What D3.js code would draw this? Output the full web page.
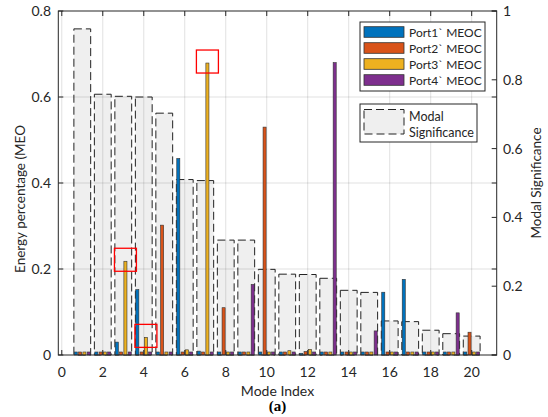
<!DOCTYPE html>
<html>
<head>
<meta charset="utf-8">
<script src="https://cdn.jsdelivr.net/npm/d3@7"></script>
<style>
  body { margin: 0; background: #fff; }
  svg { font-family: Lato, "Open Sans", sans-serif; }
</style>
</head>
<body>
<div id="chart"></div>
<script>
// mode index 1..20
const modes = d3.range(1, 21);

// energy percentage per port (left axis)
const port1 = [0.007, 0.007, 0.030, 0.152, 0.007, 0.457, 0.009, 0.007, 0.007, 0.007,
               0.007, 0.004, 0.007, 0.007, 0.007, 0.146, 0.176, 0.007, 0.007, 0.007];
const port2 = [0.007, 0.007, 0.007, 0.007, 0.302, 0.007, 0.007, 0.110, 0.007, 0.530,
               0.007, 0.008, 0.007, 0.007, 0.007, 0.007, 0.007, 0.007, 0.007, 0.053];
const port3 = [0.007, 0.007, 0.218, 0.041, 0.007, 0.012, 0.679, 0.007, 0.007, 0.007,
               0.010, 0.013, 0.007, 0.007, 0.007, 0.007, 0.007, 0.007, 0.007, 0.007];
const port4 = [0.007, 0.007, 0.007, 0.007, 0.007, 0.007, 0.007, 0.007, 0.164, 0.007,
               0.007, 0.007, 0.680, 0.007, 0.056, 0.007, 0.007, 0.007, 0.098, 0.007];

// modal significance (right axis)
const modal = [0.948, 0.758, 0.752, 0.750, 0.703, 0.510, 0.507, 0.334, 0.334, 0.249,
               0.235, 0.234, 0.223, 0.188, 0.182, 0.099, 0.097, 0.072, 0.062, 0.055];

const seriesNames = ["Port1` MEOC", "Port2` MEOC", "Port3` MEOC", "Port4` MEOC"];
const seriesColors = ["#0072BD", "#D95319", "#EDB120", "#7E2F8E"];
const series = [port1, port2, port3, port4];

const xTicks = d3.range(0, 21, 2);
const yLeftTicks = [0, 0.2, 0.4, 0.6, 0.8];
const yRightTicks = [0, 0.2, 0.4, 0.6, 0.8, 1];

// red marked bars: [mode, port index]
const marked = [[7, 2], [3, 2], [4, 2]];

const W = 548, H = 417;
const plot = {left: 58.3, right: 496.7, top: 11, bottom: 355};

const svg = d3.select("#chart").append("svg")
  .attr("width", W).attr("height", H);

const x = d3.scaleLinear().domain([-0.17, 21.22]).range([plot.left, plot.right]);
const yL = d3.scaleLinear().domain([0, 0.8]).range([plot.bottom, plot.top]);
const yR = d3.scaleLinear().domain([0, 1]).range([plot.bottom, plot.top]);

const boxW = 0.82, barW = 0.15, step = 0.21;

// modal significance boxes
svg.append("g").selectAll("rect").data(modes).join("rect")
  .attr("x", d => x(d - boxW / 2))
  .attr("width", x(boxW) - x(0))
  .attr("y", (d, i) => yR(modal[i]))
  .attr("height", (d, i) => yR(0) - yR(modal[i]))
  .attr("fill", "#efefef")
  .attr("stroke", "#222")
  .attr("stroke-width", 1)
  .attr("stroke-dasharray", "8,4");

// grid
const grid = svg.append("g").attr("stroke", "#000").attr("stroke-opacity", 0.12);
grid.selectAll(".gx").data(xTicks).join("line")
  .attr("x1", d => x(d)).attr("x2", d => x(d))
  .attr("y1", plot.top).attr("y2", plot.bottom);
grid.selectAll(".gy").data(yLeftTicks.slice(1, -1)).join("line")
  .attr("x1", plot.left).attr("x2", plot.right)
  .attr("y1", d => yL(d)).attr("y2", d => yL(d));

// grouped port bars
series.forEach((vals, s) => {
  const off = (s - 1.5) * step;
  svg.append("g").selectAll("rect").data(modes).join("rect")
    .attr("x", d => x(d + off - barW / 2))
    .attr("width", x(barW) - x(0))
    .attr("y", (d, i) => yL(vals[i]))
    .attr("height", (d, i) => yL(0) - yL(vals[i]))
    .attr("fill", seriesColors[s])
    .attr("stroke", "#333")
    .attr("stroke-width", 0.6);
});

// red highlight boxes
svg.append("g").selectAll("rect").data(marked).join("rect")
  .attr("x", d => x(d[0] + (d[1] - 1.5) * step) - 11)
  .attr("y", d => yL(series[d[1]][d[0] - 1]) - 13)
  .attr("width", 22).attr("height", 23)
  .attr("fill", "none").attr("stroke", "#ff0000").attr("stroke-width", 1.3);

// axes
const axisColor = "#262626";
const tickLen = 5;
const axes = svg.append("g").attr("stroke", axisColor).attr("stroke-width", 1);
axes.append("rect")
  .attr("x", plot.left).attr("y", plot.top)
  .attr("width", plot.right - plot.left).attr("height", plot.bottom - plot.top)
  .attr("fill", "none");
xTicks.forEach(t => {
  axes.append("line").attr("x1", x(t)).attr("x2", x(t)).attr("y1", plot.bottom).attr("y2", plot.bottom - tickLen);
  axes.append("line").attr("x1", x(t)).attr("x2", x(t)).attr("y1", plot.top).attr("y2", plot.top + tickLen);
});
yLeftTicks.forEach(t => {
  axes.append("line").attr("x1", plot.left).attr("x2", plot.left + tickLen).attr("y1", yL(t)).attr("y2", yL(t));
  axes.append("line").attr("x1", plot.right).attr("x2", plot.right - tickLen).attr("y1", yL(t)).attr("y2", yL(t));
});
yRightTicks.forEach(t => {
  axes.append("line").attr("x1", plot.right).attr("x2", plot.right - tickLen).attr("y1", yR(t)).attr("y2", yR(t));
});

const labels = svg.append("g").attr("fill", axisColor).attr("font-size", 14);
labels.selectAll(".xt").data(xTicks).join("text")
  .attr("x", d => x(d)).attr("y", 376.5)
  .attr("text-anchor", "middle").text(d => d);
labels.selectAll(".yl").data(yLeftTicks).join("text")
  .attr("x", 51).attr("y", d => yL(d) + 5)
  .attr("text-anchor", "end").text(d => d3.format("~g")(d));
labels.selectAll(".yr").data(yRightTicks).join("text")
  .attr("x", 503).attr("y", d => yR(d) + 5)
  .attr("text-anchor", "start").text(d => d3.format("~g")(d));

labels.append("text")
  .attr("x", (plot.left + plot.right) / 2).attr("y", 395.5)
  .attr("text-anchor", "middle").text("Mode Index");
labels.append("text")
  .attr("transform", "translate(25,199) rotate(-90)")
  .attr("text-anchor", "middle").attr("font-size", 13.5).text("Energy percentage (MEO");
labels.append("text")
  .attr("transform", "translate(540.5,183) rotate(-90)")
  .attr("text-anchor", "middle").attr("font-size", 13.5).text("Modal Significance");

svg.append("text")
  .attr("x", (plot.left + plot.right) / 2).attr("y", 411)
  .attr("text-anchor", "middle")
  .attr("font-family", "'Liberation Serif', 'Times New Roman', serif")
  .attr("font-weight", "bold").attr("font-size", 15).attr("fill", "#000")
  .text("(a)");

// legend for ports
const leg = svg.append("g").attr("font-size", 12).attr("fill", axisColor);
leg.append("rect").attr("x", 360).attr("y", 22).attr("width", 125).attr("height", 69)
  .attr("fill", "#fff").attr("stroke", axisColor);
seriesNames.forEach((n, i) => {
  leg.append("rect").attr("x", 364).attr("y", 26.7 + i * 16).attr("width", 40).attr("height", 10.6)
    .attr("fill", seriesColors[i]).attr("stroke", "#333").attr("stroke-width", 0.8);
  leg.append("text").attr("x", 409).attr("y", 36.5 + i * 16).text(n);
});

// legend for modal significance
const leg2 = svg.append("g").attr("font-size", 12.5).attr("fill", axisColor);
leg2.append("rect").attr("x", 360).attr("y", 104).attr("width", 117).attr("height", 38)
  .attr("fill", "#fff").attr("stroke", axisColor);
leg2.append("rect").attr("x", 364).attr("y", 109.5).attr("width", 40).attr("height", 24.5)
  .attr("fill", "#efefef").attr("stroke", "#222").attr("stroke-dasharray", "8,4");
leg2.append("text").attr("x", 409).attr("y", 120.5).text("Modal");
leg2.append("text").attr("x", 409).attr("y", 136.5).text("Significance");
</script>
</body>
</html>
